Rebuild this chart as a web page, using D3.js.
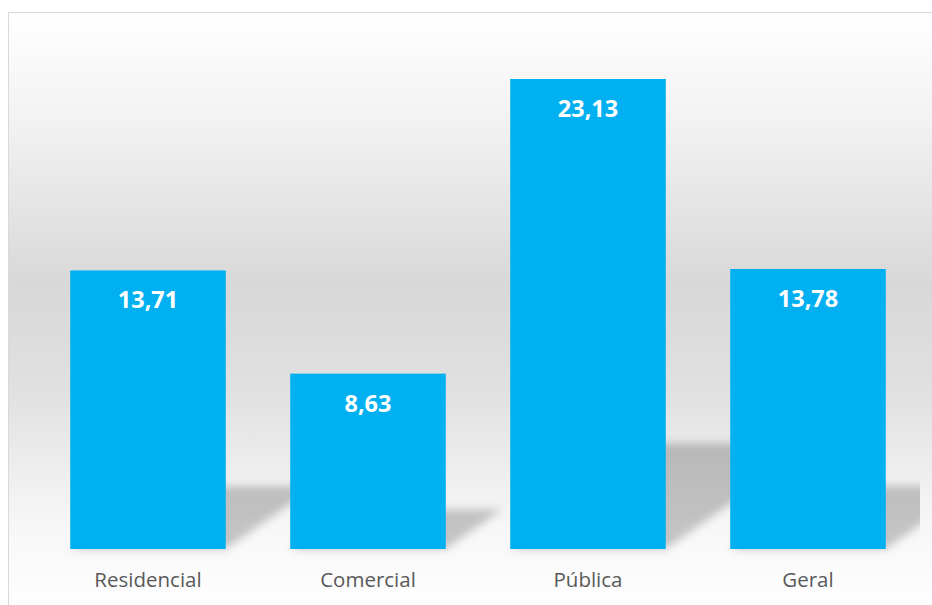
<!DOCTYPE html>
<html>
<head>
<meta charset="utf-8">
<script src="https://cdn.jsdelivr.net/npm/d3@7.9.0/dist/d3.min.js"></script>
<style>
  body { margin: 0; background: #fff; }
  svg { display: block; }
</style>
</head>
<body>
<svg id="chart" width="932" height="605"></svg>
<script>
// chart data
const categories = ['Residencial', 'Comercial', 'Pública', 'Geral'];
const values = [13.71, 8.63, 23.13, 13.78];
const yDomain = [0, 25];

const width = 932, height = 605;
const baseY = 549;

const svg = d3.select('#chart');
const defs = svg.append('defs');

// background gradient (white -> grey -> white)
const grad = defs.append('linearGradient')
  .attr('id', 'bg').attr('x1', 0).attr('y1', 0).attr('x2', 0).attr('y2', 1);
[[0, '#ffffff'], [0.18, '#f2f2f2'], [0.45, '#d8d8d8'], [0.62, '#e0e0e0'], [0.85, '#f7f7f7'], [1, '#ffffff']]
  .forEach(([o, c]) => grad.append('stop').attr('offset', o).attr('stop-color', c));

// blur for the perspective shadows
defs.append('filter').attr('id', 'blur')
  .attr('x', -0.3).attr('y', -0.3).attr('width', 1.6).attr('height', 1.6)
  .append('feGaussianBlur').attr('stdDeviation', 4);

defs.append('clipPath').attr('id', 'plotClip')
  .append('rect').attr('x', 20).attr('y', 0).attr('width', 900).attr('height', 562);

// chart area
svg.append('rect')
  .attr('x', 8.5).attr('y', 12.5)
  .attr('width', width).attr('height', height)
  .attr('fill', 'url(#bg)')
  .attr('stroke', '#d9d9d9');

const x = d3.scaleBand()
  .domain(categories)
  .range([38, 918])
  .paddingInner(0.293)
  .paddingOuter(0.1465);

const y = d3.scaleLinear().domain(yDomain).range([baseY, baseY - 508]);

const fmt = d3.formatLocale({ decimal: ',', thousands: '.', grouping: [3], currency: ['', ''] }).format('.2f');

// shadows: bar projected onto the floor, skewed to the upper right
const shadows = svg.append('g').attr('clip-path', 'url(#plotClip)');
shadows.selectAll('path')
  .data(values)
  .join('path')
  .attr('d', (d, i) => {
    const x0 = x(categories[i]), x1 = x0 + x.bandwidth();
    const rise = (baseY - y(d)) * 0.225;
    const dx = rise / 0.7;
    return `M${x0},${baseY}L${x1},${baseY}L${x1 + dx},${baseY - rise}L${x0 + dx},${baseY - rise}Z`;
  })
  .attr('fill', '#000')
  .attr('fill-opacity', 0.21)
  .attr('filter', 'url(#blur)');

// bars
svg.append('g').selectAll('rect')
  .data(values)
  .join('rect')
  .attr('x', (d, i) => x(categories[i]))
  .attr('y', d => y(d))
  .attr('width', x.bandwidth())
  .attr('height', d => baseY - y(d))
  .attr('fill', '#00b0f0');

// value labels
svg.append('g').selectAll('text')
  .data(values)
  .join('text')
  .attr('x', (d, i) => x(categories[i]) + x.bandwidth() / 2)
  .attr('y', d => y(d) + 38)
  .attr('text-anchor', 'middle')
  .attr('font-family', 'Open Sans, sans-serif')
  .attr('font-weight', 'bold')
  .attr('font-size', 23.5)
  .attr('fill', '#fff')
  .text(d => fmt(d));

// category axis
const axis = svg.append('g')
  .attr('transform', `translate(0,${baseY})`)
  .call(d3.axisBottom(x).tickSize(0).tickPadding(23.5));
axis.select('.domain').remove();
axis.selectAll('text')
  .attr('font-family', 'Open Sans, sans-serif')
  .attr('font-size', 20.5)
  .attr('fill', '#595959');
</script>
</body>
</html>
